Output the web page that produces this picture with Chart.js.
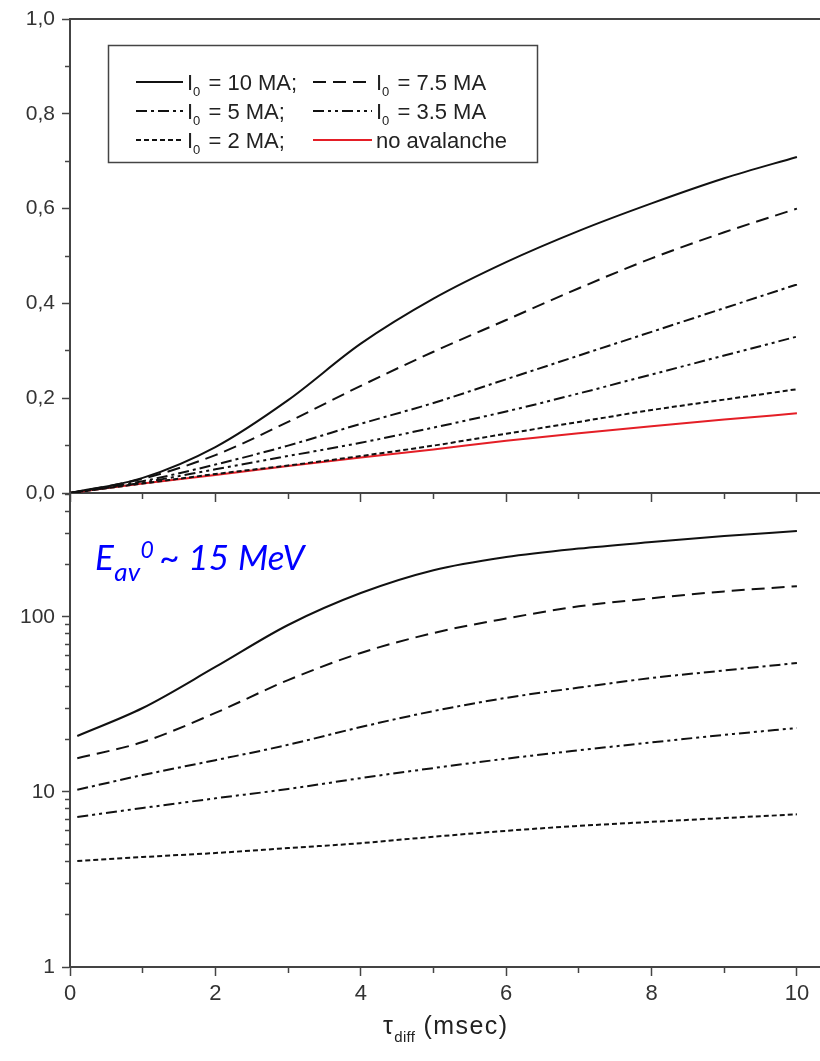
<!DOCTYPE html>
<html><head><meta charset="utf-8">
<script src="https://cdn.jsdelivr.net/npm/chart.js@4.4.1/dist/chart.umd.min.js"></script>
<style>
html,body{margin:0;padding:0;background:#fff;overflow:hidden;width:820px;height:1061px;}
#wrap{position:relative;width:820px;height:1061px;overflow:hidden;background:#fff;}
canvas{position:absolute;left:0;}
#c1{top:0;}
#c2{top:480px;}
.note{position:absolute;left:95px;top:539px;font:italic 35px Lato,'Open Sans',sans-serif;line-height:35px;color:#0000ff;white-space:nowrap;letter-spacing:0.3px;}
.note .sb{position:relative;top:11px;font-size:26px;}
.note .sp{position:relative;top:-12px;font-size:23px;margin-right:5px;}
.xt{position:absolute;left:383px;top:1013px;font:25px 'Liberation Sans',Arial,sans-serif;line-height:25px;color:#222;white-space:nowrap;letter-spacing:1.4px;}
.xt .sb{position:relative;top:8px;font-size:15px;letter-spacing:0.3px;}
</style></head>
<body><div id="wrap">
<canvas id="c1" width="826" height="510"></canvas>
<canvas id="c2" width="826" height="581"></canvas>
<div class="note">E<span class="sb">av</span><span class="sp">0</span>~ 15 MeV</div>
<div class="xt">τ<span class="sb">diff</span> (msec)</div>
</div>
<script>
// ---------- data ----------
const tauTop = [0, 1, 2, 3, 4, 5, 6, 7, 8, 9, 10];
const tauBottom = [0.1, 1, 2, 3, 4, 5, 6, 7, 8, 9, 10];

const labels = ['I\u2080 = 10 MA;', 'I\u2080 = 7.5 MA', 'I\u2080 = 5 MA;', 'I\u2080 = 3.5 MA', 'I\u2080 = 2 MA;', 'no avalanche'];

const top10  = [0, 0.032, 0.097, 0.196, 0.315, 0.41, 0.487, 0.553, 0.611, 0.664, 0.709];
const top75  = [0, 0.030, 0.080, 0.150, 0.226, 0.298, 0.365, 0.432, 0.495, 0.550, 0.600];
const top5   = [0, 0.025, 0.060, 0.100, 0.146, 0.190, 0.240, 0.290, 0.340, 0.390, 0.440];
const top35  = [0, 0.022, 0.050, 0.078, 0.106, 0.138, 0.172, 0.210, 0.250, 0.290, 0.330];
const top2   = [0, 0.020, 0.040, 0.058, 0.078, 0.100, 0.125, 0.150, 0.175, 0.197, 0.219];
const topNoAv= [0, 0.020, 0.038, 0.057, 0.075, 0.092, 0.110, 0.126, 0.141, 0.155, 0.168];

const bot10 = [20.9, 30.2, 51.8, 90, 137, 185, 220, 246, 268, 290, 310];
const bot75 = [15.6, 19.3, 28.3, 43.6, 62.3, 81, 98, 115, 128, 140, 150];
const bot5  = [10.3, 12.5, 15.2, 18.6, 23.5, 29, 34.5, 39.5, 44.8, 49.5, 54.6];
const bot35 = [7.2, 8.1, 9.2, 10.4, 12.0, 13.7, 15.5, 17.3, 19.2, 21.2, 23.2];
const bot2  = [4.03, 4.25, 4.48, 4.78, 5.1, 5.55, 6.0, 6.4, 6.75, 7.1, 7.45];

const xMajorTicks = [0, 2, 4, 6, 8, 10];
const xMinorTicks = [1, 3, 5, 7, 9];
const topYMajor = [0, 0.2, 0.4, 0.6, 0.8, 1.0];
const topYMinor = [0.1, 0.3, 0.5, 0.7, 0.9];
const logYMajor = [1, 10, 100];
const logYMinor = [2, 3, 4, 5, 6, 7, 8, 9, 20, 30, 40, 50, 60, 70, 80, 90, 200, 300, 400, 500];

// ---------- styles ----------
const AX = '#444';
const TXT = '#333';
const dashes = [[], [13, 7], [11, 4, 3, 4], [11, 4, 3, 4, 3, 4], [5, 3], []];
const colors = ['#111', '#111', '#111', '#111', '#111', '#e41e26'];

Chart.defaults.font.family = "'Liberation Sans', Arial, sans-serif";
Chart.defaults.color = TXT;

const pts = (xs, ys) => xs.map((x, i) => ({ x: x, y: ys[i] }));
function mkDs(xs, arr) {
  return arr.map((ys, i) => ({
    label: labels[i],
    data: pts(xs, ys),
    borderColor: colors[i],
    borderWidth: 2,
    borderDash: dashes[i],
    pointRadius: 0,
    fill: false,
    cubicInterpolationMode: 'monotone',
    xAxisID: 'x', yAxisID: 'y'
  }));
}
const setTicks = vals => s => { s.ticks = vals.map(v => ({ value: v })); };
const fix = (w, h) => s => {
  if (w !== null) s.width = w;
  if (h !== null) s.height = h;
  s.paddingTop = 0; s.paddingBottom = 0; s.paddingLeft = 0; s.paddingRight = 0;
};

function xAxes(withLabels, majorH) {
  return {
    x: {
      type: 'linear', position: 'bottom', min: 0, max: 10.4, weight: 1,
      afterBuildTicks: setTicks(xMajorTicks),
      afterFit: fix(null, majorH),
      border: { display: true, color: AX, width: 2 },
      grid: { display: true, drawOnChartArea: false, drawTicks: true, tickLength: 9, tickColor: AX, tickWidth: 1.5 },
      ticks: { display: withLabels, autoSkip: false, maxRotation: 0, padding: 5, font: { size: 22 }, color: TXT }
    },
    xMinor: {
      type: 'linear', position: 'bottom', min: 0, max: 10.4, weight: 0,
      afterBuildTicks: setTicks(xMinorTicks),
      afterFit: fix(null, 0),
      border: { display: false },
      grid: { display: true, drawOnChartArea: false, drawTicks: true, tickLength: 6, tickColor: AX, tickWidth: 1.5 },
      ticks: { display: false, autoSkip: false }
    }
  };
}

// legend drawn inside the top chart from the datasets' own styles
const boxLegend = {
  id: 'boxLegend',
  afterDatasetsDraw(chart) {
    const ctx = chart.ctx;
    ctx.save();
    ctx.fillStyle = '#fff';
    ctx.fillRect(108, 45, 429, 117);
    ctx.strokeStyle = AX; ctx.lineWidth = 1.5; ctx.setLineDash([]);
    ctx.strokeRect(108.5, 45.5, 429, 117);
    const rows = [82, 111, 140];
    const cols = [{ x0: 136, x1: 183, tx: 187 }, { x0: 313, x1: 372, tx: 376 }];
    chart.data.datasets.forEach((ds, i) => {
      const r = Math.floor(i / 2), c = cols[i % 2], y = rows[r];
      ctx.setLineDash(ds.borderDash || []);
      ctx.strokeStyle = ds.borderColor; ctx.lineWidth = ds.borderWidth;
      ctx.beginPath(); ctx.moveTo(c.x0, y); ctx.lineTo(c.x1, y); ctx.stroke();
      ctx.setLineDash([]);
      ctx.fillStyle = '#222'; ctx.textBaseline = 'alphabetic'; ctx.textAlign = 'left';
      const big = "22px 'Liberation Sans', Arial, sans-serif";
      const small = "13px 'Liberation Sans', Arial, sans-serif";
      let x = c.tx; const base = y + 8;
      const lab = ds.label;
      const k = lab.indexOf('\u2080');
      if (k >= 0) {
        ctx.font = big; const a = lab.slice(0, k);
        ctx.fillText(a, x, base); x += ctx.measureText(a).width;
        ctx.font = small; ctx.fillText('0', x, base + 6); x += ctx.measureText('0').width + 2;
        ctx.font = big; ctx.fillText(lab.slice(k + 1), x, base);
      } else {
        ctx.font = big; ctx.fillText(lab, x, base);
      }
    });
    ctx.restore();
  }
};

const topChart = new Chart(document.getElementById('c1'), {
  type: 'line',
  data: { datasets: mkDs(tauTop, [top10, top75, top5, top35, top2, topNoAv]) },
  options: {
    responsive: false, animation: false, devicePixelRatio: 1,
    layout: { padding: { top: 19, left: 0, right: 0, bottom: 0 } },
    plugins: { legend: { display: false }, tooltip: { enabled: false } },
    scales: Object.assign(xAxes(false, 17), {
      xTop: {
        type: 'linear', position: 'top', min: 0, max: 10.4,
        afterBuildTicks: setTicks([]),
        afterFit: fix(null, 0),
        border: { display: true, color: AX, width: 2 },
        grid: { display: false, drawTicks: false },
        ticks: { display: false }
      },
      y: {
        type: 'linear', position: 'left', min: 0, max: 1, weight: 1,
        afterBuildTicks: setTicks(topYMajor),
        afterFit: fix(70, null),
        border: { display: true, color: AX, width: 2 },
        grid: { display: true, drawOnChartArea: false, tickLength: 8, tickColor: AX, tickWidth: 1.5 },
        ticks: { autoSkip: false, padding: 7, font: { size: 21 }, color: TXT,
                 callback: v => v.toFixed(1).replace('.', ',') }
      },
      yMinor: {
        type: 'linear', position: 'left', min: 0, max: 1, weight: 0,
        afterBuildTicks: setTicks(topYMinor),
        afterFit: fix(0, null),
        border: { display: false },
        grid: { display: true, drawOnChartArea: false, tickLength: 5, tickColor: AX, tickWidth: 1.5 },
        ticks: { display: false, autoSkip: false }
      }
    })
  },
  plugins: [boxLegend]
});

const botChart = new Chart(document.getElementById('c2'), {
  type: 'line',
  data: { datasets: mkDs(tauBottom, [bot10, bot75, bot5, bot35, bot2]) },
  options: {
    responsive: false, animation: false, devicePixelRatio: 1,
    layout: { padding: { top: 13, left: 0, right: 0, bottom: 0 } },
    plugins: { legend: { display: false }, tooltip: { enabled: false } },
    scales: Object.assign(xAxes(true, 94), {
      y: {
        type: 'logarithmic', position: 'left', min: 1, max: 511, weight: 1,
        afterBuildTicks: setTicks(logYMajor),
        afterFit: fix(70, null),
        border: { display: true, color: AX, width: 2 },
        grid: { display: true, drawOnChartArea: false, tickLength: 8, tickColor: AX, tickWidth: 1.5 },
        ticks: { autoSkip: false, padding: 7, font: { size: 21 }, color: TXT, callback: v => String(v) }
      },
      yMinor: {
        type: 'logarithmic', position: 'left', min: 1, max: 511, weight: 0,
        afterBuildTicks: setTicks(logYMinor),
        afterFit: fix(0, null),
        border: { display: false },
        grid: { display: true, drawOnChartArea: false, tickLength: 5, tickColor: AX, tickWidth: 1.5 },
        ticks: { display: false, autoSkip: false }
      }
    })
  }
});
</script>
</body></html>
